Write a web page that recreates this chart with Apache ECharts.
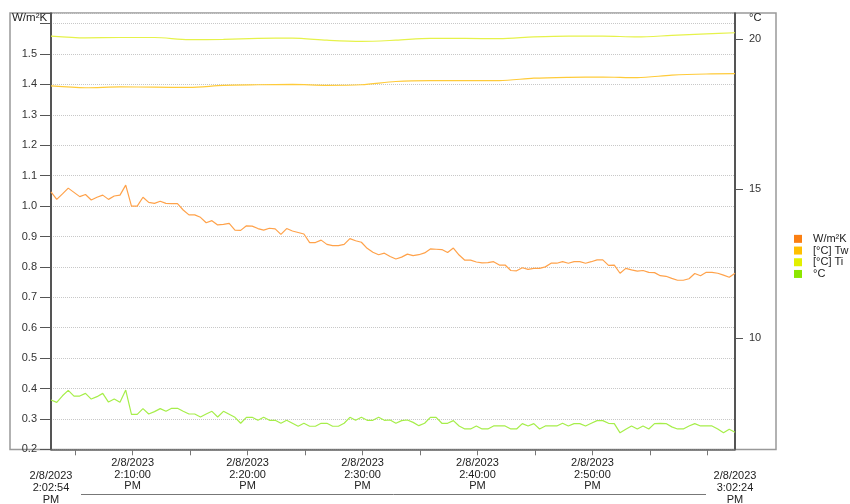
<!DOCTYPE html>
<html>
<head>
<meta charset="utf-8">
<script src="https://cdn.jsdelivr.net/npm/echarts@6/dist/echarts.min.js"></script>
<style>
    html, body { margin: 0; padding: 0; background: #fff; }
    #chart { width: 850px; height: 504px; }
</style>
</head>
<body>
<div id="chart"></div>
<script>
// samples every 30 s from 2/8/2023 2:02:54 PM to 3:02:24 PM
const startTime = new Date(2023, 1, 8, 14, 2, 54).getTime();
const sampleMs = 30000;

// W/m²K (left axis)
const uValues = [
    1.047, 1.022, 1.040, 1.059, 1.045, 1.031, 1.038, 1.020, 1.029, 1.036,
    1.022, 1.033, 1.036, 1.069, 1.000, 1.000, 1.029, 1.012, 1.009, 1.016,
    1.009, 1.008, 1.008, 0.987, 0.971, 0.971, 0.963, 0.945, 0.952, 0.938,
    0.940, 0.943, 0.921, 0.920, 0.935, 0.934, 0.926, 0.921, 0.927, 0.925,
    0.907, 0.926, 0.918, 0.913, 0.908, 0.880, 0.880, 0.888, 0.874, 0.870,
    0.870, 0.874, 0.893, 0.886, 0.881, 0.861, 0.848, 0.840, 0.845, 0.834,
    0.826, 0.832, 0.842, 0.837, 0.840, 0.846, 0.859, 0.858, 0.857, 0.847,
    0.862, 0.839, 0.822, 0.822, 0.816, 0.813, 0.814, 0.817, 0.806, 0.806,
    0.788, 0.787, 0.797, 0.792, 0.795, 0.795, 0.800, 0.812, 0.812, 0.817,
    0.812, 0.817, 0.817, 0.812, 0.817, 0.823, 0.823, 0.805, 0.806, 0.779,
    0.795, 0.790, 0.786, 0.788, 0.782, 0.781, 0.771, 0.769, 0.762, 0.756,
    0.756, 0.761, 0.778, 0.771, 0.782, 0.782, 0.779, 0.773, 0.766, 0.779
];

// °C outside (right axis)
const outsideTemp = [
    7.94, 7.86, 8.08, 8.26, 8.07, 8.07, 8.16, 7.97, 8.05, 8.16,
    7.87, 7.97, 7.86, 8.27, 7.46, 7.46, 7.65, 7.47, 7.55, 7.65,
    7.56, 7.66, 7.66, 7.56, 7.47, 7.47, 7.37, 7.47, 7.56, 7.37,
    7.56, 7.46, 7.36, 7.16, 7.36, 7.36, 7.26, 7.36, 7.26, 7.26,
    7.16, 7.26, 7.16, 7.06, 7.16, 7.06, 7.06, 7.16, 7.16, 7.06,
    7.06, 7.16, 7.36, 7.26, 7.36, 7.26, 7.26, 7.36, 7.26, 7.27,
    7.16, 7.25, 7.27, 7.19, 7.08, 7.16, 7.36, 7.36, 7.16, 7.16,
    7.25, 7.07, 6.97, 6.97, 7.07, 6.97, 6.97, 7.07, 7.07, 7.07,
    6.97, 6.97, 7.15, 7.07, 7.15, 6.97, 7.07, 7.07, 7.07, 7.16,
    7.07, 7.15, 7.15, 7.07, 7.16, 7.25, 7.25, 7.16, 7.15, 6.84,
    6.96, 7.07, 6.97, 7.07, 6.97, 7.15, 7.16, 7.15, 7.04, 6.97,
    6.97, 7.07, 7.15, 7.07, 7.07, 7.07, 6.97, 6.84, 6.96, 6.86
];

// the two room temperatures move slowly, read every 3 minutes
const slowIndex = [0, 6, 12, 18, 24, 30, 36, 42, 48, 54, 60, 66, 72, 78, 84, 90, 96, 102, 108, 114, 119];
const twTemp = [18.44, 18.38, 18.41, 18.40, 18.39, 18.46, 18.48, 18.49, 18.46, 18.48, 18.59,
                18.62, 18.62, 18.62, 18.70, 18.73, 18.74, 18.72, 18.80, 18.84, 18.85];
const tiTemp = [20.11, 20.05, 20.06, 20.06, 19.99, 20.00, 20.03, 20.04, 19.97, 19.93, 19.97,
                20.03, 20.03, 20.02, 20.08, 20.11, 20.11, 20.08, 20.13, 20.18, 20.22];

const leftTicks = [0.2, 0.3, 0.4, 0.5, 0.6, 0.7, 0.8, 0.9, 1.0, 1.1, 1.2, 1.3, 1.4, 1.5];
const rightTicks = [10, 15, 20];
// labelled clock times (hour, minute)
const labelClock = [[14, 10], [14, 20], [14, 30], [14, 40], [14, 50]];
const seriesNames = ["W/m²K", "[°C] Tw", "[°C] Ti", "°C"];

const FONT = "Liberation Sans, Arial, sans-serif";
const endTime = startTime + (uValues.length - 1) * sampleMs;
const minute = 60000;

const times = uValues.map((v, i) => startTime + i * sampleMs);
const pairs = (vals) => vals.map((v, i) => [times[i], v]);
const slowPairs = (vals) => vals.map((v, i) => [times[slowIndex[i]], v]);

// ticks every 5 minutes
const firstTick = new Date(2023, 1, 8, 14, 5, 0).getTime();
const tickTimes = [];
for (let t = firstTick; t < endTime; t += 5 * minute) tickTimes.push(t);
const labelTimes = labelClock.map(([h, m]) => new Date(2023, 1, 8, h, m, 0).getTime());

function pad(n) { return n < 10 ? "0" + n : "" + n; }
function formatTime(ts) {
    const d = new Date(ts);
    let h = d.getHours();
    const ap = h >= 12 ? "PM" : "AM";
    h = h % 12 || 12;
    return `${d.getMonth() + 1}/${d.getDate()}/${d.getFullYear()}\n${h}:${pad(d.getMinutes())}:${pad(d.getSeconds())}\n${ap}`;
}

const chart = echarts.init(document.getElementById("chart"));
chart.setOption({
    animation: false,
    backgroundColor: "#fff",
    textStyle: { fontFamily: FONT },
    grid: {
        left: 51, right: 115, top: 13.3, bottom: 54.7,
        outerBoundsMode: "none"
    },
    legend: {
        orient: "vertical",
        left: 789,
        top: 228,
        icon: "rect",
        itemWidth: 8,
        itemHeight: 8,
        itemGap: 0,
        selectedMode: false,
        data: seriesNames,
        textStyle: {
            fontFamily: FONT,
            fontSize: 11,
            color: "#222",
            lineHeight: 11.7,
            padding: [0, 0, 0, 6]
        }
    },
    xAxis: [
        {
            type: "value",
            min: startTime,
            max: endTime,
            axisLine: { show: true, lineStyle: { color: "#666", width: 1.5 } },
            axisTick: { show: true, length: 6, customValues: tickTimes, lineStyle: { color: "#777" } },
            axisLabel: {
                customValues: labelTimes,
                formatter: formatTime,
                fontFamily: FONT,
                fontSize: 11,
                lineHeight: 11.5,
                color: "#222",
                margin: 8
            },
            splitLine: { show: false }
        },
        {
            type: "value",
            min: startTime,
            max: endTime,
            position: "bottom",
            axisLine: { show: false },
            axisTick: { show: false },
            axisLabel: {
                customValues: [startTime, endTime],
                formatter: formatTime,
                fontFamily: FONT,
                fontSize: 11,
                lineHeight: 12,
                color: "#222",
                margin: 21,
                showMinLabel: true,
                showMaxLabel: true
            },
            splitLine: { show: false }
        }
    ],
    yAxis: [
        {
            type: "value",
            min: 0.2,
            max: 1.634,
            interval: 0.1,
            position: "left",
            axisLine: { show: true, lineStyle: { color: "#555", width: 2 } },
            axisTick: { show: true, inside: false, length: 11, lineStyle: { color: "#555" } },
            axisLabel: {
                fontFamily: FONT,
                fontSize: 11,
                color: "#333",
                margin: 14,
                formatter: v => (leftTicks.some(t => Math.abs(t - v) < 1e-6) ? v.toFixed(1) : "")
            },
            splitLine: { show: true, lineStyle: { color: "#c8c8c8", type: "dotted", width: 1 } }
        },
        {
            type: "value",
            min: 6.29,
            max: 20.87,
            position: "right",
            axisLine: { show: true, lineStyle: { color: "#555", width: 2 } },
            axisTick: { show: true, inside: false, length: 8, customValues: rightTicks, lineStyle: { color: "#555" } },
            axisLabel: {
                customValues: rightTicks,
                fontFamily: FONT,
                fontSize: 11,
                color: "#333",
                margin: 14
            },
            splitLine: { show: false }
        }
    ],
    graphic: [
        {
            type: "rect",
            shape: { x: 10, y: 13, width: 766, height: 436.5 },
            style: { fill: "none", stroke: "#999", lineWidth: 1.5 },
            silent: true, z: -1
        },
        {
            type: "line",
            shape: { x1: 81, y1: 494.5, x2: 706, y2: 494.5 },
            style: { stroke: "#777", lineWidth: 1 },
            silent: true
        },
        {
            type: "text",
            left: 12, top: 12,
            style: { text: "W/m²K", font: "11.5px " + FONT, fill: "#222" }
        },
        {
            type: "text",
            left: 749, top: 12,
            style: { text: "°C", font: "11px " + FONT, fill: "#222" }
        }
    ],
    series: [
        {
            name: seriesNames[0],
            type: "line",
            yAxisIndex: 0,
            data: pairs(uValues),
            showSymbol: false,
            itemStyle: { color: "#fb7f12" },
            lineStyle: { color: "#ffa24a", width: 1.2 }
        },
        {
            name: seriesNames[1],
            type: "line",
            yAxisIndex: 1,
            data: slowPairs(twTemp),
            showSymbol: false,
            smooth: 0.3,
            itemStyle: { color: "#ffc000" },
            lineStyle: { color: "#ffcb3a", width: 1.2 }
        },
        {
            name: seriesNames[2],
            type: "line",
            yAxisIndex: 1,
            data: slowPairs(tiTemp),
            showSymbol: false,
            smooth: 0.3,
            itemStyle: { color: "#e2f000" },
            lineStyle: { color: "#e6f24a", width: 1.2 }
        },
        {
            name: seriesNames[3],
            type: "line",
            yAxisIndex: 1,
            data: pairs(outsideTemp),
            showSymbol: false,
            itemStyle: { color: "#8ce600" },
            lineStyle: { color: "#a6ee4a", width: 1.2 }
        }
    ]
});
</script>
</body>
</html>
